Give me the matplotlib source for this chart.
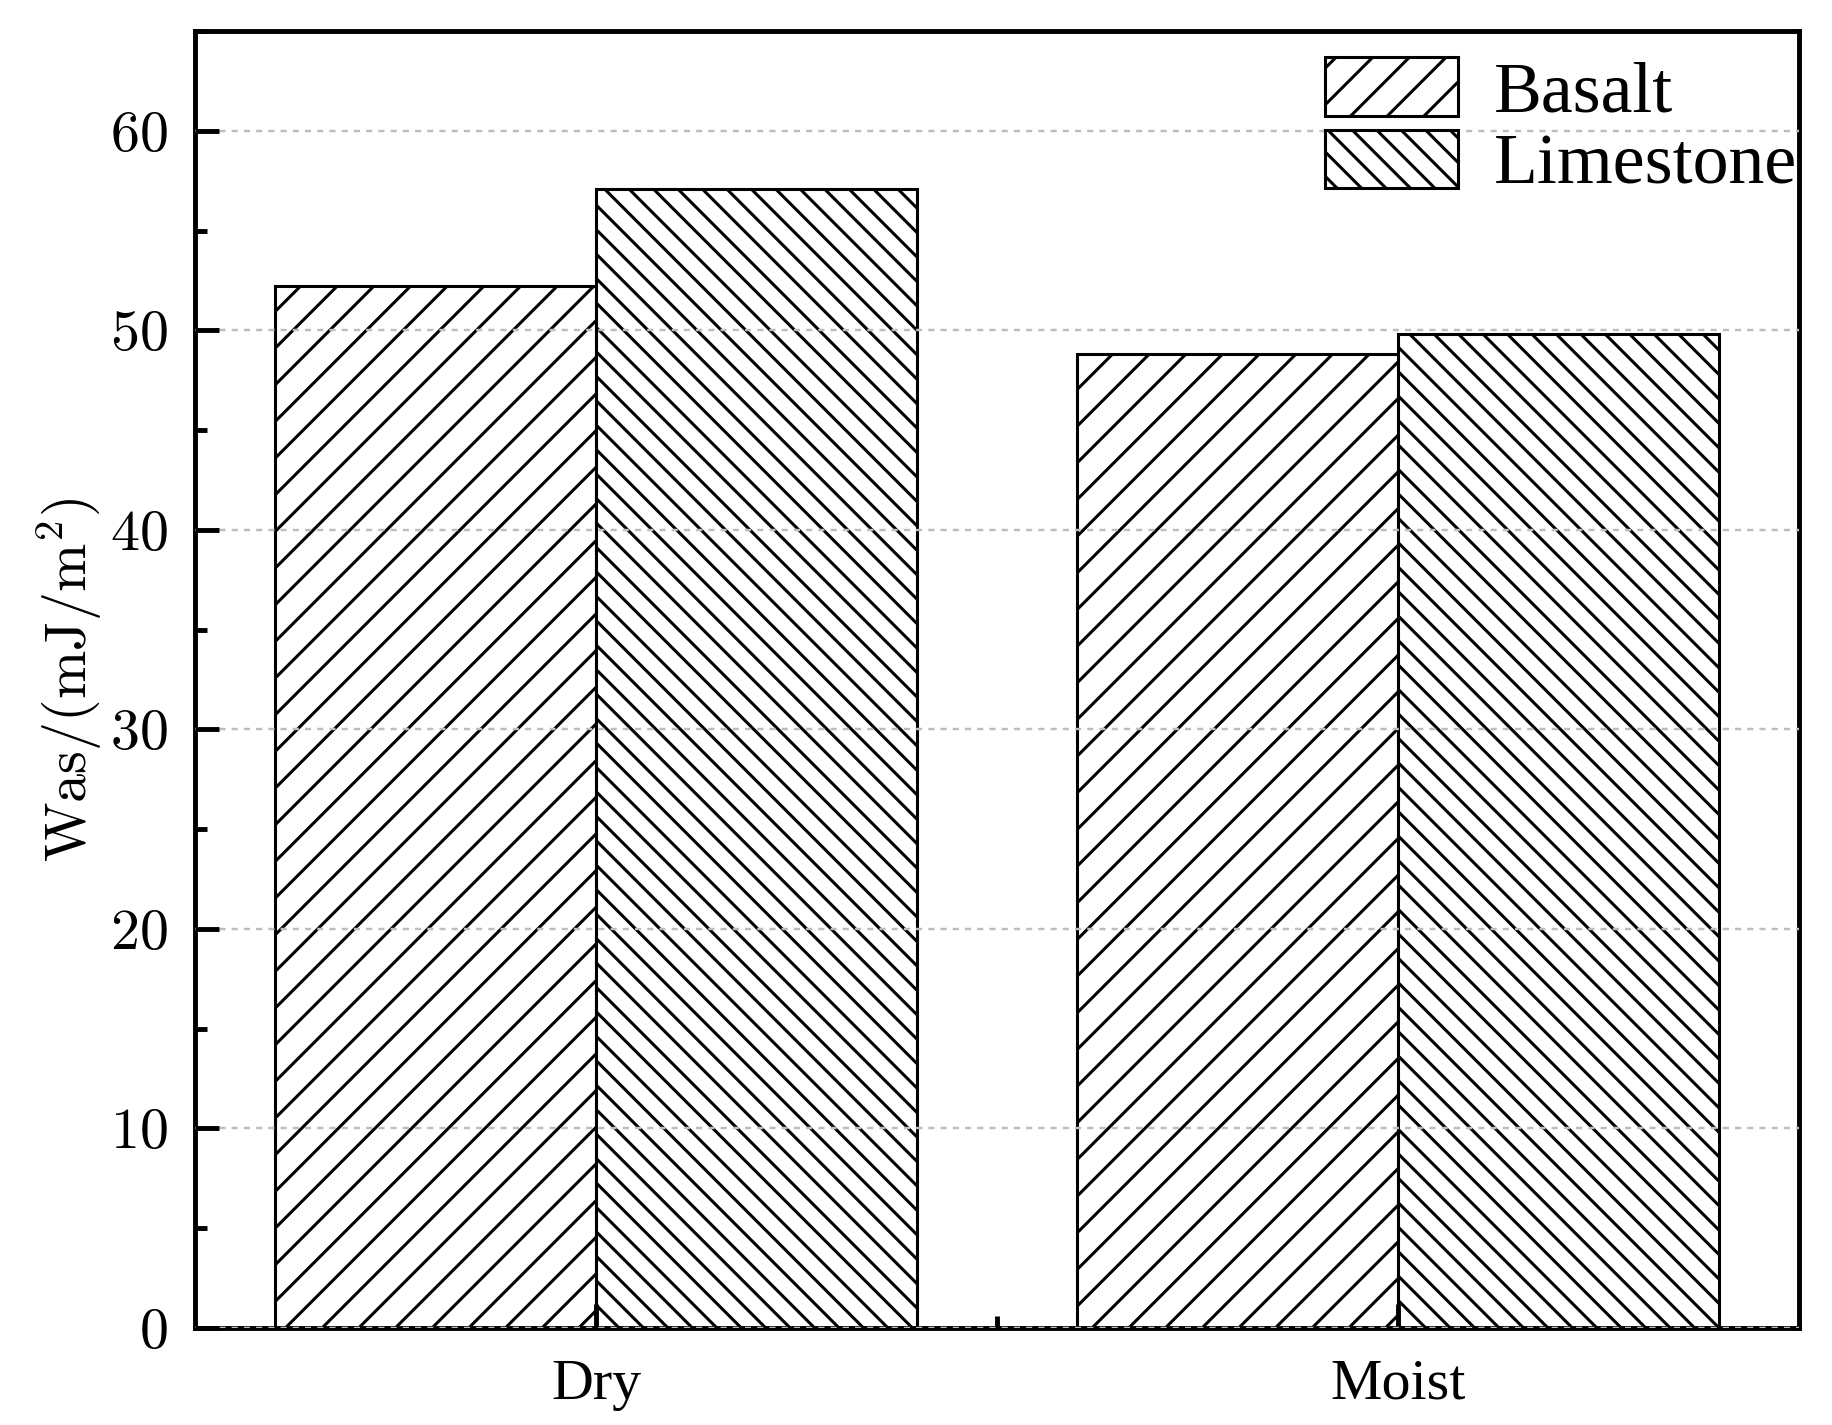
import numpy as np
import matplotlib
matplotlib.use("Agg")
import matplotlib.pyplot as plt
from matplotlib.ticker import MultipleLocator, FixedLocator, FuncFormatter

# data
conditions = ["Dry", "Moist"]
basalt = [52.2, 48.8]
limestone = [57.1, 49.8]

plt.rcParams["font.family"] = ["Liberation Serif", "DejaVu Serif"]
plt.rcParams["mathtext.fontset"] = "cm"
plt.rcParams["hatch.linewidth"] = 1.0

fig = plt.figure(figsize=(1832 / 220, 1425 / 220), dpi=220)
ax = fig.add_axes([195 / 1832, 1 - 1328 / 1425, (1799 - 195) / 1832, (1328 - 31) / 1425])

x = np.arange(len(conditions))
w = 0.4
ax.bar(x - w / 2, basalt, w, facecolor="white", edgecolor="black", linewidth=1.0,
       hatch="//", label="Basalt", zorder=2)
ax.bar(x + w / 2, limestone, w, facecolor="white", edgecolor="black", linewidth=1.0,
       hatch="\\\\\\", label="Limestone", zorder=2)

ax.set_xlim(-0.5, 1.5)
ax.set_ylim(0, 65)
ax.set_xticks(x)
ax.set_xticklabels(conditions, fontsize=19)
ax.xaxis.set_minor_locator(FixedLocator([0.5]))
ax.yaxis.set_major_locator(MultipleLocator(10))
ax.yaxis.set_minor_locator(MultipleLocator(5))
ax.yaxis.set_major_formatter(FuncFormatter(lambda v, p: f"${v:.0f}$"))

ax.tick_params(axis="both", which="major", direction="in", length=8, width=1.6, pad=9)
ax.tick_params(axis="both", which="minor", direction="in", length=4, width=1.6)
ax.tick_params(axis="y", labelsize=19)
ax.tick_params(axis="x", pad=10)

for s in ax.spines.values():
    s.set_linewidth(1.6)

ax.yaxis.grid(True, which="major", color="#bdbdbd", linestyle=(0, (2.5, 2.5)), linewidth=0.8, zorder=3)
ax.set_axisbelow(False)

ax.set_ylabel(r"$\mathrm{Was/(mJ/m^2)}$", fontsize=19, labelpad=2)

leg = ax.legend(loc="upper left", bbox_to_anchor=(0.7045, 0.98), frameon=False,
                fontsize=23.5, handlelength=1.85, handleheight=0.88, handletextpad=0.5,
                labelspacing=0.05, borderpad=0, borderaxespad=0)

fig.savefig("out.png", dpi=220)
